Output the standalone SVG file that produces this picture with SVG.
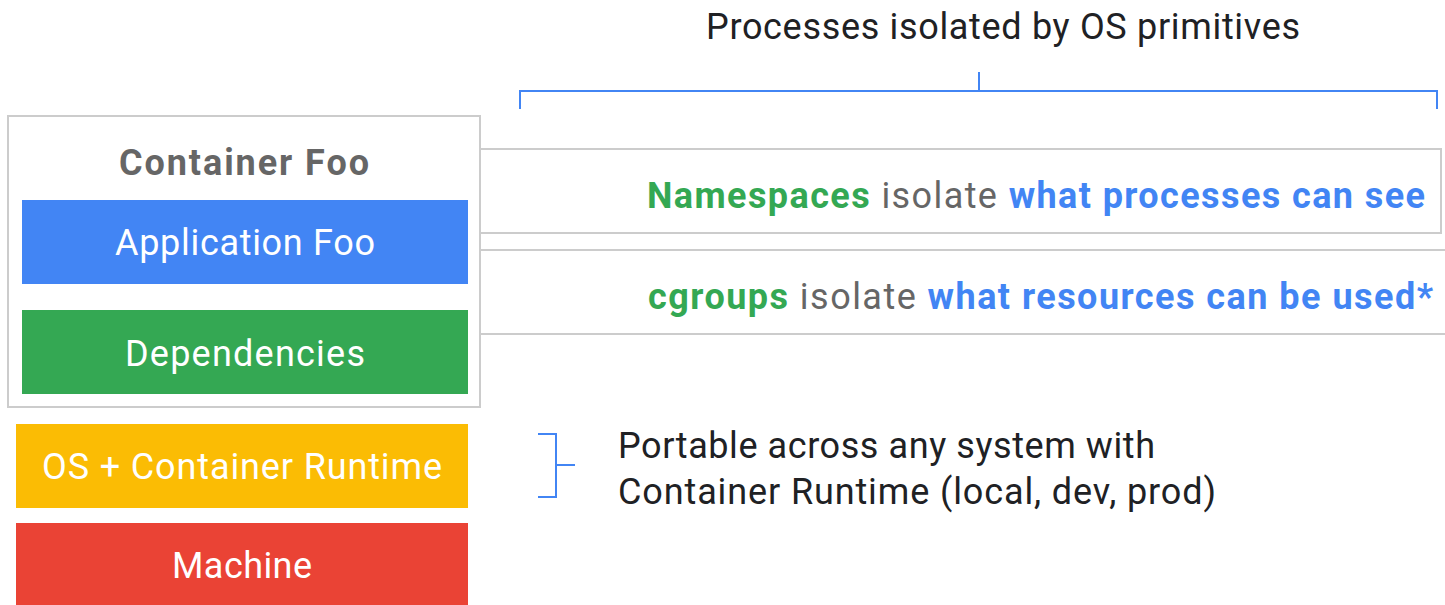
<svg xmlns="http://www.w3.org/2000/svg" width="1445" height="605" viewBox="0 0 1445 605">
  <style>
    text { font-family: Roboto, "Open Sans", "Liberation Sans", sans-serif; font-size: 36px; }
    .white { fill: #ffffff; }
    .dark { fill: #202124; }
    .title { fill: #666666; font-weight: bold; }
    .green { fill: #34a853; font-weight: bold; }
    .blue { fill: #4285f4; font-weight: bold; }
    .gray { fill: #666666; }
    .frame { fill: #ffffff; stroke: #cccccc; stroke-width: 2; }
    .rule { fill: none; stroke: #cccccc; stroke-width: 2; }
    .brace { fill: none; stroke: #4285f4; stroke-width: 2; }
  </style>
  <rect width="1445" height="605" fill="#ffffff"/>

  <!-- caption above the isolation rows -->
  <g id="caption-processes">
    <text x="1003" y="39" text-anchor="middle" class="dark" textLength="594" lengthAdjust="spacing">Processes isolated by OS primitives</text>
  </g>

  <!-- brackets and row rules -->
  <g id="connectors">
    <path class="brace" d="M520,109 V91 H1437 V109 M979,72 V91"/>
    <path class="brace" stroke-width="3" d="M538,434 H556 V497 H538 M556,465 H575"/>
    <path class="rule" d="M480,149 H1441 V233 H480"/>
    <path class="rule" d="M480,250 H1445 M480,334 H1445"/>
  </g>

  <!-- container with its layers -->
  <g id="container-foo">
    <rect class="frame" x="8" y="116" width="472" height="291"/>
    <text x="244" y="175" text-anchor="middle" class="title" textLength="250" lengthAdjust="spacing">Container Foo</text>
  </g>
  <g id="application-foo">
    <rect x="22" y="200" width="446" height="84" fill="#4285f4"/>
    <text x="245" y="255" text-anchor="middle" class="white" textLength="260" lengthAdjust="spacing">Application Foo</text>
  </g>
  <g id="dependencies">
    <rect x="22" y="310" width="446" height="84" fill="#34a853"/>
    <text x="245" y="366" text-anchor="middle" class="white" textLength="240" lengthAdjust="spacing">Dependencies</text>
  </g>
  <g id="os-runtime">
    <rect x="16" y="424" width="452" height="84" fill="#fbbc04"/>
    <text x="242" y="479" text-anchor="middle" class="white" textLength="400" lengthAdjust="spacing">OS + Container Runtime</text>
  </g>
  <g id="machine">
    <rect x="16" y="523" width="452" height="82" fill="#ea4335"/>
    <text x="242" y="578" text-anchor="middle" class="white" textLength="140" lengthAdjust="spacing">Machine</text>
  </g>

  <!-- isolation rows -->
  <g id="namespaces">
    <text x="1425" y="208" text-anchor="end" textLength="778" lengthAdjust="spacing"><tspan class="green">Namespaces</tspan><tspan class="gray"> isolate </tspan><tspan class="blue">what processes can see</tspan></text>
  </g>
  <g id="cgroups">
    <text x="1433" y="309" text-anchor="end" textLength="785" lengthAdjust="spacing"><tspan class="green">cgroups</tspan><tspan class="gray"> isolate </tspan><tspan class="blue">what resources can be used*</tspan></text>
  </g>

  <!-- portability note -->
  <g id="portable-note">
    <text x="618" y="458" class="dark" textLength="537" lengthAdjust="spacing">Portable across any system with</text>
    <text x="618" y="504" class="dark" textLength="598" lengthAdjust="spacing">Container Runtime (local, dev, prod)</text>
  </g>
</svg>
